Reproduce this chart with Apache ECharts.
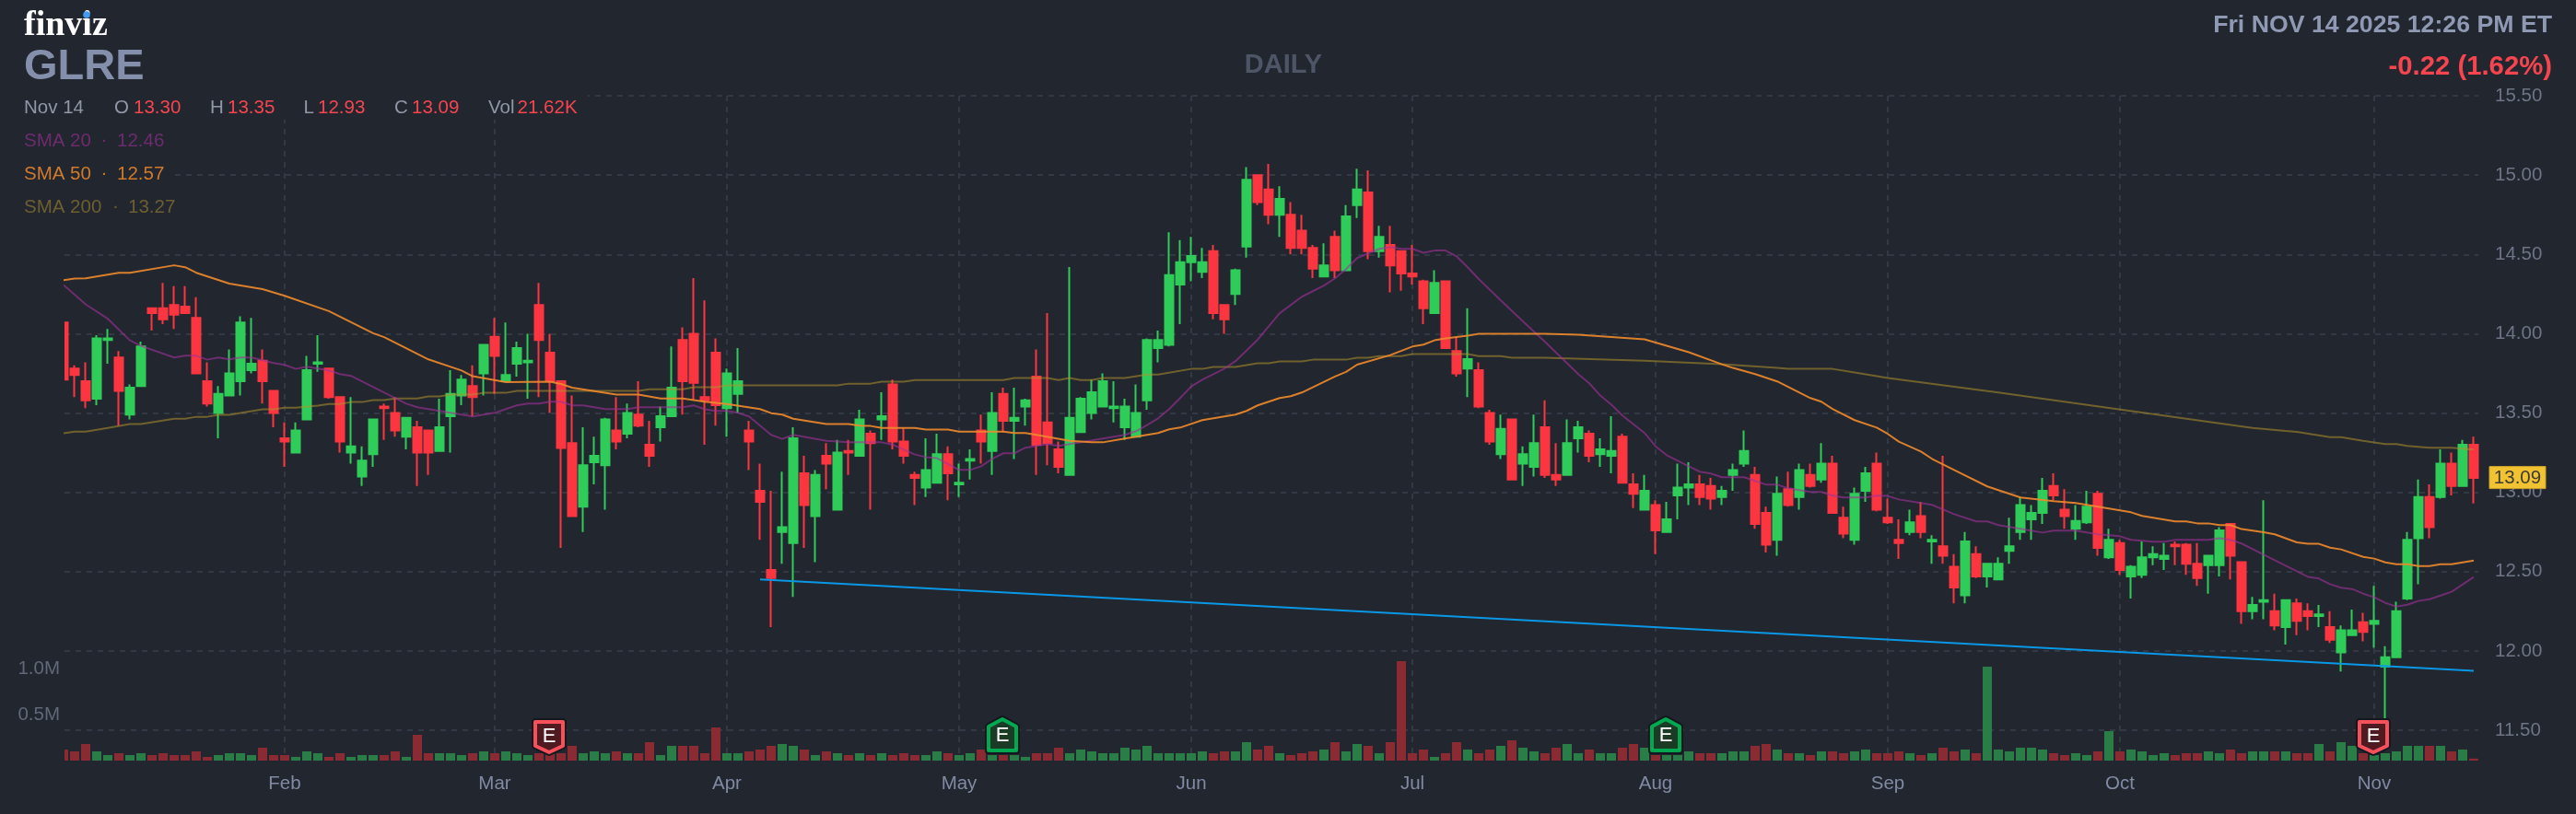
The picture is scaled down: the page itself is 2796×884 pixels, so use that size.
<!DOCTYPE html>
<html><head><meta charset="utf-8">
<style>html,body{margin:0;padding:0;background:#22262f}#c{width:2796px;height:884px}</style>
<script src="https://cdn.jsdelivr.net/npm/echarts@6/dist/echarts.min.js"></script>
</head><body><div id="c"></div>
<script>
const opens=[14.07,13.78,13.70,13.59,13.96,13.85,13.49,13.67,14.16,14.16,
14.18,14.17,14.10,13.70,13.50,13.61,13.70,13.77,13.83,13.64,
13.34,13.25,13.46,13.81,13.78,13.60,13.25,13.10,13.24,13.54,
13.50,13.35,13.41,13.39,13.26,13.48,13.61,13.67,13.75,13.98,
13.70,13.81,13.82,14.18,13.88,13.70,13.31,12.91,13.19,13.17,
13.39,13.37,13.49,13.30,13.41,13.48,13.96,14.00,13.60,13.88,
13.53,13.62,13.39,13.01,12.51,12.75,12.68,13.12,12.85,13.23,
12.89,13.26,13.23,13.37,13.46,13.68,13.32,13.11,13.03,13.06,
13.24,13.05,13.20,13.39,13.26,13.62,13.45,13.54,13.73,13.44,
13.27,13.11,13.38,13.50,13.54,13.53,13.41,13.35,13.58,13.91,
13.93,14.31,14.45,14.39,14.52,14.18,14.25,14.55,15.00,14.91,
14.75,14.75,14.65,14.54,14.36,14.61,14.40,14.81,14.89,14.52,
14.56,14.52,14.38,14.33,14.13,14.33,13.89,13.78,13.77,13.50,
13.24,13.46,13.18,13.16,13.41,13.11,13.11,13.34,13.37,13.24,
13.23,13.35,13.05,12.89,12.92,12.75,12.98,13.03,13.05,13.04,
12.97,13.11,13.18,13.11,12.87,12.70,13.02,12.97,13.11,13.08,
13.18,12.84,12.70,13.01,13.18,12.84,12.70,12.75,12.85,12.69,
12.66,12.53,12.35,12.61,12.47,12.45,12.63,12.75,12.83,12.87,
13.04,12.89,12.77,12.81,12.99,12.59,12.68,12.47,12.48,12.59,
12.58,12.67,12.67,12.55,12.54,12.54,12.80,12.56,12.25,12.31,
12.25,12.15,12.30,12.25,12.22,12.15,11.99,12.10,12.18,12.17,
11.90,11.96,12.33,12.71,12.97,12.97,13.18,13.04,13.30];
const closes=[13.71,13.74,13.58,13.97,13.97,13.64,13.66,13.92,14.13,14.09,
14.12,14.13,13.75,13.56,13.62,13.75,14.07,13.81,13.70,13.50,
13.32,13.39,13.77,13.82,13.60,13.32,13.29,13.20,13.46,13.53,
13.39,13.47,13.25,13.25,13.41,13.62,13.71,13.60,13.93,13.86,
13.74,13.91,13.83,13.96,13.70,13.28,12.85,13.17,13.23,13.46,
13.32,13.50,13.42,13.23,13.48,13.66,13.70,13.69,13.58,13.55,
13.75,13.70,13.32,12.94,12.46,12.78,13.34,12.92,13.11,13.18,
13.25,13.25,13.46,13.31,13.48,13.32,13.23,13.09,13.14,13.24,
13.12,13.06,13.21,13.32,13.50,13.45,13.47,13.58,13.30,13.31,
13.16,13.47,13.59,13.63,13.70,13.54,13.54,13.50,13.96,13.96,
14.37,14.45,14.49,14.45,14.13,14.09,14.40,14.97,14.83,14.75,
14.85,14.54,14.54,14.41,14.43,14.40,14.74,14.91,14.52,14.61,
14.43,14.38,14.36,14.16,14.32,13.91,13.75,13.84,13.54,13.32,
13.40,13.08,13.24,13.31,13.11,13.08,13.31,13.41,13.23,13.27,
13.26,13.06,12.99,13.01,12.76,12.83,13.03,13.05,12.97,12.96,
13.01,13.14,13.26,12.80,12.67,12.99,12.92,13.14,13.04,13.18,
12.87,12.74,12.99,13.12,12.89,12.81,12.68,12.81,12.75,12.70,
12.60,12.40,12.69,12.47,12.55,12.55,12.66,12.92,12.87,13.01,
12.98,12.85,12.82,12.91,12.65,12.70,12.51,12.53,12.59,12.61,
12.60,12.66,12.55,12.46,12.60,12.76,12.60,12.25,12.29,12.32,
12.16,12.32,12.19,12.22,12.23,12.07,12.13,12.13,12.12,12.19,
11.96,12.25,12.70,12.97,12.78,13.18,13.04,13.30,13.09];
const highs=[14.07,13.80,13.82,13.99,14.03,13.89,13.68,13.95,14.16,14.32,
14.30,14.30,14.23,13.82,13.67,13.90,14.11,14.10,13.90,13.64,
13.44,13.44,13.86,13.99,13.78,13.60,13.60,13.29,13.46,13.56,
13.60,13.47,13.45,13.39,13.59,13.77,13.74,13.80,13.93,14.10,
14.07,13.95,14.00,14.32,14.00,13.70,13.61,13.41,13.35,13.47,
13.60,13.56,13.70,13.45,13.54,13.92,14.04,14.35,14.21,13.97,
13.78,13.91,13.45,13.18,13.01,13.13,13.41,13.23,13.14,13.31,
13.33,13.33,13.52,13.39,13.63,13.71,13.41,13.13,13.34,13.37,
13.29,13.18,13.27,13.49,13.63,13.66,13.66,13.59,13.90,14.13,
13.32,14.42,13.60,13.71,13.75,13.70,13.59,13.68,13.97,14.02,
14.64,14.59,14.61,14.54,14.56,14.18,14.41,15.05,15.00,15.07,
14.93,14.83,14.75,14.56,14.57,14.65,14.81,15.04,15.03,14.68,
14.68,14.52,14.56,14.34,14.40,14.33,13.98,14.16,13.82,13.52,
13.49,13.46,13.29,13.49,13.58,13.31,13.46,13.45,13.39,13.34,
13.48,13.37,13.12,13.11,12.95,12.94,13.18,13.19,13.11,13.09,
13.04,13.18,13.39,13.16,12.91,13.10,13.13,13.18,13.18,13.31,
13.23,12.91,13.03,13.16,13.25,12.96,12.83,12.89,12.94,12.73,
13.23,12.61,12.75,12.66,12.55,12.59,12.84,12.97,12.92,13.09,
13.12,13.02,12.92,13.01,13.01,12.77,12.70,12.54,12.69,12.66,
12.68,12.69,12.68,12.68,12.60,12.78,12.80,12.56,12.34,12.95,
12.36,12.32,12.33,12.30,12.29,12.25,12.16,12.26,12.24,12.41,
12.03,12.31,12.75,13.08,13.05,13.27,13.25,13.33,13.35];
const lows=[13.71,13.60,13.53,13.55,13.81,13.42,13.46,13.67,14.02,14.06,
14.03,14.13,13.75,13.54,13.34,13.61,13.61,13.75,13.56,13.41,
13.16,13.25,13.46,13.76,13.59,13.25,13.18,13.04,13.16,13.33,
13.35,13.27,13.04,13.11,13.26,13.25,13.55,13.48,13.61,13.62,
13.70,13.73,13.59,13.60,13.50,12.65,12.85,12.75,13.05,12.89,
13.27,13.34,13.41,13.16,13.32,13.48,13.49,13.58,13.30,13.42,
13.35,13.50,13.14,12.70,12.15,12.55,12.34,12.65,12.56,13.02,
12.89,13.11,13.23,12.89,13.33,13.27,13.18,12.92,12.97,13.06,
12.95,12.97,13.08,13.18,13.11,13.38,13.21,13.42,13.11,13.17,
13.12,13.11,13.38,13.46,13.54,13.44,13.33,13.35,13.52,13.82,
13.92,14.06,14.33,14.35,14.09,14.00,14.18,14.48,14.81,14.69,
14.61,14.50,14.50,14.35,14.36,14.35,14.40,14.73,14.47,14.48,
14.26,14.27,14.31,14.06,14.13,13.91,13.73,13.60,13.53,13.30,
13.21,13.08,13.04,13.10,13.09,13.04,13.11,13.25,13.19,13.16,
13.12,13.06,12.90,12.89,12.61,12.75,12.83,12.92,12.92,12.89,
12.92,13.01,13.16,12.77,12.62,12.60,12.91,12.89,13.03,13.06,
12.87,12.71,12.67,12.94,12.88,12.80,12.58,12.73,12.71,12.55,
12.55,12.30,12.30,12.46,12.40,12.45,12.55,12.70,12.70,12.80,
12.95,12.77,12.70,12.80,12.60,12.58,12.48,12.33,12.46,12.54,
12.51,12.54,12.48,12.41,12.36,12.47,12.45,12.17,12.20,12.20,
12.13,12.04,12.10,12.13,12.15,12.05,11.87,12.10,12.06,12.02,
11.56,11.96,12.32,12.42,12.71,12.96,12.98,13.04,12.93];
const volumes=[.12,.10,.18,.10,.06,.08,.06,.08,.06,.08,
.06,.06,.10,.04,.06,.08,.08,.06,.14,.06,
.06,.04,.10,.08,.04,.08,.04,.06,.06,.06,
.10,.04,.28,.08,.08,.08,.06,.08,.10,.08,
.10,.08,.06,.08,.08,.08,.16,.08,.10,.08,
.10,.08,.08,.20,.06,.16,.16,.16,.08,.36,
.08,.08,.10,.12,.16,.18,.16,.12,.06,.10,
.08,.06,.08,.06,.08,.06,.08,.06,.06,.10,
.08,.06,.08,.12,.06,.06,.06,.04,.08,.08,
.14,.08,.12,.10,.08,.08,.14,.12,.16,.08,
.08,.08,.08,.10,.08,.10,.10,.20,.12,.16,
.08,.06,.08,.10,.12,.20,.10,.18,.16,.08,
.20,1.08,.08,.12,.04,.08,.20,.12,.08,.12,
.16,.22,.14,.10,.08,.14,.18,.08,.12,.08,
.08,.14,.18,.14,.06,.06,.06,.10,.08,.08,
.08,.10,.10,.16,.18,.12,.08,.08,.06,.10,
.10,.08,.10,.12,.08,.08,.10,.08,.06,.08,
.14,.10,.12,.08,1.02,.12,.10,.14,.14,.12,
.08,.06,.08,.06,.10,.32,.10,.12,.10,.06,
.08,.06,.08,.08,.10,.08,.12,.08,.10,.10,
.10,.10,.08,.08,.18,.10,.20,.16,.08,.06,
.08,.10,.16,.16,.16,.16,.10,.12,.0216];
const sma50=[[0,14.338],[1,14.347],[2,14.349],[5,14.384],[6,14.384],[10,14.431],[11,14.419],[12,14.384],[15,14.316],[18,14.281],[20,14.239],[24,14.142],[28,14.003],[29,13.978],[33,13.838],[36,13.768],[37,13.732],[40,13.695],[44,13.697],[45,13.683],[46,13.660],[50,13.616],[52,13.616],[54,13.592],[56,13.592],[58,13.571],[60,13.557],[63,13.525],[64,13.499],[65,13.490],[66,13.464],[69,13.430],[71,13.430],[72,13.420],[73,13.418],[74,13.406],[77,13.406],[78,13.395],[80,13.395],[81,13.383],[85,13.383],[86,13.374],[87,13.374],[88,13.362],[91,13.325],[93,13.315],[94,13.315],[96,13.339],[99,13.374],[100,13.397],[101,13.408],[103,13.455],[106,13.490],[107,13.513],[108,13.548],[110,13.594],[111,13.606],[112,13.629],[115,13.730],[116,13.759],[117,13.805],[120,13.865],[122,13.919],[123,13.931],[124,13.958],[125,13.970],[127,13.987],[128,13.999],[134,13.999],[137,13.993],[143,13.964],[147,13.883],[150,13.807],[151,13.784],[153,13.745],[155,13.699],[158,13.594],[159,13.571],[160,13.525],[162,13.455],[164,13.408],[165,13.368],[166,13.319],[168,13.257],[169,13.211],[171,13.141],[174,13.037],[177,12.967],[180,12.944],[182,12.932],[184,12.909],[187,12.874],[188,12.851],[191,12.816],[192,12.816],[193,12.804],[194,12.804],[195,12.793],[196,12.793],[197,12.768],[199,12.748],[200,12.735],[202,12.684],[203,12.675],[204,12.675],[205,12.651],[206,12.640],[208,12.593],[209,12.582],[210,12.558],[211,12.547],[212,12.547],[213,12.535],[214,12.535],[215,12.547],[216,12.547],[218,12.570]];
const sma20=[[0,14.307],[2,14.185],[4,14.094],[6,13.958],[7,13.923],[10,13.850],[11,13.861],[12,13.861],[13,13.836],[14,13.850],[15,13.838],[16,13.850],[17,13.850],[19,13.815],[20,13.803],[21,13.778],[22,13.792],[24,13.768],[25,13.745],[26,13.734],[30,13.594],[31,13.559],[32,13.536],[35,13.501],[37,13.478],[39,13.501],[40,13.525],[41,13.548],[42,13.559],[43,13.559],[44,13.571],[45,13.571],[46,13.548],[47,13.548],[49,13.525],[51,13.525],[52,13.536],[56,13.536],[57,13.548],[58,13.523],[59,13.513],[60,13.513],[61,13.501],[62,13.478],[64,13.362],[65,13.337],[66,13.362],[69,13.325],[71,13.315],[74,13.315],[75,13.300],[77,13.238],[78,13.222],[79,13.215],[81,13.141],[82,13.141],[83,13.164],[84,13.211],[85,13.246],[86,13.246],[87,13.281],[88,13.292],[89,13.304],[90,13.292],[91,13.304],[93,13.327],[96,13.362],[97,13.385],[98,13.424],[99,13.466],[100,13.525],[101,13.594],[102,13.668],[103,13.710],[105,13.780],[106,13.827],[108,13.962],[110,14.129],[112,14.233],[114,14.303],[115,14.349],[116,14.407],[117,14.477],[119,14.535],[120,14.547],[121,14.535],[122,14.535],[123,14.510],[124,14.524],[125,14.524],[126,14.487],[127,14.419],[128,14.345],[130,14.210],[132,14.078],[134,13.949],[137,13.745],[138,13.687],[139,13.610],[140,13.552],[141,13.484],[143,13.374],[144,13.290],[145,13.234],[147,13.164],[148,13.130],[149,13.118],[150,13.095],[152,13.095],[153,13.072],[154,13.048],[155,13.048],[156,13.025],[158,13.002],[159,13.002],[160,12.979],[161,12.967],[163,12.967],[164,12.979],[165,12.977],[166,12.955],[168,12.932],[169,12.921],[171,12.862],[173,12.816],[174,12.816],[175,12.793],[177,12.770],[179,12.746],[180,12.758],[182,12.758],[184,12.735],[186,12.723],[187,12.700],[189,12.688],[190,12.688],[191,12.700],[194,12.700],[195,12.711],[196,12.700],[197,12.677],[199,12.607],[203,12.467],[204,12.456],[205,12.421],[206,12.398],[207,12.390],[208,12.361],[209,12.338],[210,12.303],[211,12.280],[212,12.291],[213,12.315],[214,12.326],[215,12.349],[216,12.373],[217,12.419],[218,12.466]];
const sma200=[[0,13.372],[1,13.383],[2,13.383],[4,13.406],[6,13.430],[7,13.430],[10,13.464],[11,13.464],[12,13.476],[13,13.476],[14,13.488],[15,13.488],[18,13.523],[19,13.523],[20,13.534],[21,13.534],[23,13.546],[24,13.557],[25,13.557],[26,13.569],[27,13.569],[28,13.581],[29,13.581],[30,13.592],[32,13.592],[33,13.604],[34,13.604],[35,13.616],[37,13.616],[38,13.627],[40,13.627],[41,13.639],[52,13.639],[53,13.650],[56,13.650],[57,13.662],[59,13.662],[60,13.674],[70,13.674],[71,13.685],[73,13.685],[74,13.697],[76,13.697],[77,13.708],[85,13.708],[86,13.720],[89,13.720],[90,13.708],[91,13.720],[92,13.708],[93,13.708],[94,13.720],[96,13.720],[98,13.743],[99,13.743],[102,13.778],[103,13.778],[104,13.790],[106,13.790],[108,13.813],[109,13.813],[110,13.825],[112,13.825],[113,13.836],[116,13.836],[117,13.848],[118,13.848],[119,13.859],[121,13.859],[122,13.871],[127,13.871],[128,13.859],[130,13.859],[131,13.848],[134,13.848],[143,13.830],[150,13.807],[155,13.784],[156,13.778],[160,13.778],[162,13.755],[165,13.720],[175,13.629],[185,13.532],[195,13.435],[198,13.406],[201,13.387],[202,13.381],[205,13.348],[206,13.348],[208,13.325],[210,13.304],[211,13.304],[212,13.292],[214,13.281],[216,13.281],[218,13.269]];
const trendline=[[63,12.45],[218,11.875]];
const monthTicks=[20,39,60,81,102,122,144,165,186,209];
const monthLabels=['Feb','Mar','Apr','May','Jun','Jul','Aug','Sep','Oct','Nov'];
const volumeTicks=[0.5,1.0];
const earningsDays=[44,85,145,209];
const earningsUp=[0,1,1,0];
const lastClose=13.09;

const BG='#22262f',UP='#2fcc5a',DOWN='#fb3640',UPV='#2a7d47',DOWNV='#8a2b33';
const GRIDC='#333845',SANS='"Liberation Sans",Arial,sans-serif';
const XMIN=0.0833,XMAX=218.4167;
const hline={show:true,lineStyle:{color:GRIDC,width:2,type:[6,6]}};
const chart=echarts.init(document.getElementById('c'),null,{renderer:'canvas'});

function txt(text,x,y,size,fill,opt){
  return {type:'text',z:10,silent:true,style:Object.assign({text,x,y,fill,fontSize:size,fontFamily:SANS,textVerticalAlign:'middle',textAlign:'left'},opt||{})};
}
const RED='#f6454f',GRAYT='#9098a8',FS=20.5;
const graphics=[
 {type:'rect',z:1,silent:true,shape:{x:0,y:90,width:638,height:40},style:{fill:BG}},
 {type:'rect',z:1,silent:true,shape:{x:0,y:130,width:190,height:110},style:{fill:BG}},
 {type:'rect',z:8,silent:true,shape:{x:60,y:340,width:10,height:80},style:{fill:BG}},
 {type:'rect',z:8,silent:true,shape:{x:60,y:805,width:10,height:25},style:{fill:BG}},
 txt('finviz',26,28,38,'#ffffff',{fontFamily:'"Liberation Serif",serif',fontWeight:'bold'}),
 {type:'circle',z:11,silent:true,shape:{cx:94,cy:16,r:3.8},style:{fill:'#3f9cf5'}},
 txt('GLRE',26,73,47,'#8490ab',{fontWeight:'bold'}),
 txt('DAILY',1393,71,29,'#4d5566',{fontWeight:'bold',textAlign:'center'}),
 txt('Fri NOV 14 2025 12:26 PM ET',2770,28,26.7,'#8f99b3',{fontWeight:'bold',textAlign:'right'}),
 txt('-0.22 (1.62%)',2770,73,29.3,RED,{fontWeight:'bold',textAlign:'right'}),
 txt('Nov 14',26,117,FS,GRAYT),
 txt('O',124,117,FS,GRAYT),txt('13.30',145,117,FS,RED),
 txt('H',228,117,FS,GRAYT),txt('13.35',247,117,FS,RED),
 txt('L',329.5,117,FS,GRAYT),txt('12.93',345,117,FS,RED),
 txt('C',428,117,FS,GRAYT),txt('13.09',447,117,FS,RED),
 txt('Vol',530,117,FS,GRAYT),txt('21.62K',561.6,117,FS,RED),
 txt('SMA 20',26,153,FS,'#6c2c6e'),txt('·',113,152,FS,'#6c2c6e',{textAlign:'center'}),txt('12.46',127,153,FS,'#6c2c6e'),
 txt('SMA 50',26,189,FS,'#cf7a2c'),txt('·',113,188,FS,'#cf7a2c',{textAlign:'center'}),txt('12.57',127,189,FS,'#cf7a2c'),
 txt('SMA 200',26,225,FS,'#6e5f30'),txt('·',125.5,224,FS,'#6e5f30',{textAlign:'center'}),txt('13.27',139,225,FS,'#6e5f30')
];

const candleData=opens.map((o,i)=>[i,o,closes[i],lows[i],highs[i]]);
const volData=volumes.map((v,i)=>({value:[i,v],itemStyle:{color:closes[i]>=opens[i]?UPV:DOWNV}}));

function lineSeries(name,data,color,opacity,z,width){
  return {name,type:'line',xAxisIndex:0,yAxisIndex:0,data,showSymbol:false,symbol:'none',smooth:false,z,silent:true,
    lineStyle:{color,width:width||2,opacity},itemStyle:{color},animation:false};
}
chart.setOption({
 animation:false,
 backgroundColor:BG,
 grid:[
  {left:70,top:104,width:2620,height:689,containLabel:false},
  {left:70,top:104,width:2620,height:722,containLabel:false}
 ],
 xAxis:[
  {type:'value',gridIndex:0,min:XMIN,max:XMAX,show:false,splitLine:{show:false}},
  {type:'value',gridIndex:1,min:XMIN,max:XMAX,axisLine:{show:false},
   axisTick:{show:false,customValues:monthTicks},
   axisLabel:{show:true,customValues:monthTicks,margin:15,color:'#808aa2',fontSize:FS,fontFamily:SANS,
     formatter:v=>monthLabels[monthTicks.indexOf(v)]||''},
   splitLine:{show:true,lineStyle:{color:GRIDC,width:2,type:[6,6]}}}
 ],
 yAxis:[
  {type:'value',gridIndex:0,position:'right',min:11.5,max:15.5,interval:0.5,axisLine:{show:false},axisTick:{show:false},
   axisLabel:{margin:18,color:'#6c7486',fontSize:FS,fontFamily:SANS,padding:[0,0,6,0],formatter:v=>v.toFixed(2)},
   splitLine:hline},
  {type:'value',gridIndex:1,position:'left',min:0,max:7.22,axisLine:{show:false},axisTick:{show:false,customValues:volumeTicks},
   axisLabel:{customValues:volumeTicks,margin:5,color:'#606879',fontSize:FS,fontFamily:SANS,padding:[0,0,7,0],formatter:v=>v.toFixed(1)+'M'},
   splitLine:{show:false}}
 ],
 graphic:{elements:graphics},
 series:[
  {name:'Volume',type:'bar',xAxisIndex:1,yAxisIndex:1,data:volData,barWidth:10,z:1,silent:true},
  {name:'Price',type:'candlestick',xAxisIndex:0,yAxisIndex:0,data:candleData,barWidth:9,z:2,silent:true,
   itemStyle:{color:UP,color0:DOWN,borderColor:UP,borderColor0:DOWN,borderWidth:2}},
  lineSeries('SMA 200',sma200,'#b0912c',0.55,3),
  lineSeries('SMA 50',sma50,'#ee8a2c',0.9,4),
  lineSeries('SMA 20',sma20,'#a0329a',0.6,3),
  lineSeries('Trend',trendline,'#0a98e6',1,5),
  {name:'Earnings',type:'custom',xAxisIndex:1,yAxisIndex:1,z:6,silent:true,clip:false,
   data:earningsDays.map((d,i)=>[d,earningsUp[i]]),
   encode:{x:0},
   renderItem(p,api){
     const up=api.value(1)===1;
     const c=api.coord([api.value(0),up?0.28:0.25]);
     const cx=c[0]-1,cy=c[1];
     const pts=up?[[-15,-9],[0,-17],[15,-9],[15,17],[-15,17]]:[[-15,-17],[15,-17],[15,9],[0,16],[-15,9]];
     const abs=pts.map(q=>[cx+q[0],cy+q[1]]);
     return {type:'group',children:[
       {type:'polygon',shape:{points:abs},style:{fill:'#15171e',stroke:'#15171e',lineWidth:8,lineJoin:'round'}},
       {type:'polygon',shape:{points:abs},style:{fill:up?'#1c3b24':'#4f1a20',stroke:up?'#00a94f':'#f6505a',lineWidth:4,lineJoin:'round'}},
       {type:'text',style:{text:'E',x:cx,y:cy+(up?1:-1),textAlign:'center',textVerticalAlign:'middle',fill:'#fff',fontSize:22,fontFamily:SANS}}
     ]};
   }},
  {name:'Last',type:'custom',xAxisIndex:0,yAxisIndex:0,z:7,silent:true,clip:false,
   data:[[218,lastClose]],encode:{x:0,y:1},
   renderItem(p,api){
     const y=api.coord([218,api.value(1)])[1];
     const x=api.coord([XMAX,api.value(1)])[0]+12;
     return {type:'group',children:[
       {type:'rect',shape:{x,y:y-12.5,width:61,height:24},style:{fill:'#f1c232',stroke:'#c9a22c',lineWidth:1}},
       {type:'text',style:{text:lastClose.toFixed(2),x:x+30.5,y:y,textAlign:'center',textVerticalAlign:'middle',fill:'#3c3c34',fontSize:FS,fontFamily:SANS}}
     ]};
   }}
 ]
});
</script></body></html>
